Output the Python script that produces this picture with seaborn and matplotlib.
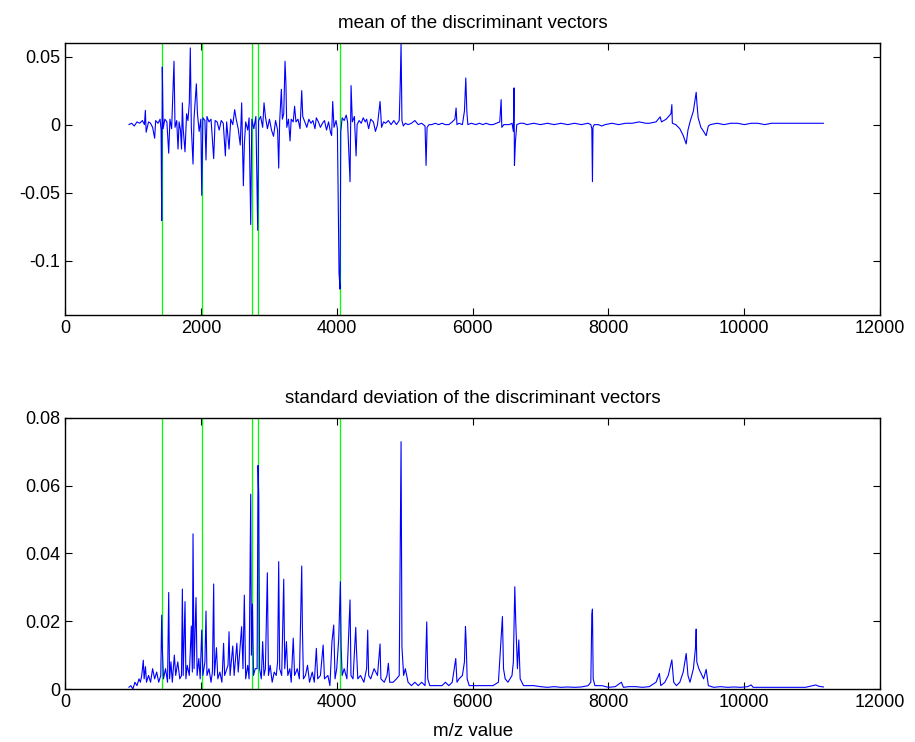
"""Mean / std of discriminant vectors over m/z, MATLAB-style two panel plot"""
import numpy as np
import pandas as pd
import matplotlib
matplotlib.use("Agg")
import matplotlib.pyplot as plt
import seaborn as sns

# trace vertices (m/z, value)
mean_mz = [
    940, 980, 1020, 1060, 1100, 1140, 1170, 1183, 1195, 1230, 1260, 1290, 1320, 1335,
    1370, 1400, 1415, 1424, 1433, 1445, 1470, 1500, 1527, 1545, 1570, 1605, 1620, 1645,
    1664, 1680, 1700, 1716, 1728, 1740, 1767, 1790, 1810, 1830, 1845, 1860, 1885, 1900,
    1934, 1950, 1975, 2000, 2013, 2030, 2060, 2076, 2090, 2120, 2150, 2189, 2210, 2240,
    2270, 2300, 2330, 2361, 2380, 2415, 2440, 2470, 2498, 2520, 2550, 2580, 2601, 2626,
    2640, 2660, 2690, 2710, 2734, 2750, 2780, 2810, 2837, 2850, 2880, 2910, 2930, 2950,
    2980, 3010, 3040, 3070, 3100, 3130, 3146, 3160, 3185, 3200, 3220, 3239, 3252, 3265,
    3290, 3313, 3330, 3360, 3380, 3400, 3430, 3460, 3485, 3500, 3530, 3560, 3590, 3620,
    3650, 3680, 3700, 3730, 3760, 3790, 3820, 3850, 3880, 3910, 3925, 3941, 3960, 3990,
    4010, 4034, 4049, 4060, 4080, 4110, 4140, 4160, 4196, 4211, 4230, 4260, 4285, 4300,
    4330, 4360, 4390, 4420, 4440, 4470, 4500, 4540, 4570, 4600, 4638, 4660, 4690, 4720,
    4760, 4800, 4840, 4880, 4920, 4935, 4947, 4960, 4980, 5010, 5050, 5100, 5150, 5200,
    5250, 5300, 5315, 5330, 5360, 5400, 5450, 5500, 5550, 5600, 5650, 5700, 5740, 5757,
    5770, 5800, 5850, 5880, 5900, 5915, 5930, 5980, 6050, 6100, 6150, 6200, 6250, 6300,
    6350, 6400, 6420, 6430, 6460, 6500, 6540, 6580, 6600, 6610, 6616, 6630, 6650, 6700,
    6750, 6800, 6900, 7000, 7100, 7200, 7300, 7400, 7500, 7600, 7700, 7740, 7755, 7764,
    7772, 7790, 7850, 7900, 7950, 8050, 8150, 8250, 8350, 8450, 8550, 8600, 8700, 8761,
    8780, 8850, 8920, 8933, 8940, 8990, 9050, 9100, 9144, 9170, 9200, 9250, 9280, 9291,
    9300, 9320, 9360, 9400, 9438, 9470, 9500, 9600, 9700, 9800, 9900, 10000, 10100,
    10200, 10300, 10400, 10500, 10600, 10700, 10800, 10900, 11000, 11100, 11166,
]
mean_val = [
    0.000, 0.001, -0.001, 0.002, 0.001, 0.003, 0.000, 0.0105, -0.0056, 0.002, 0.001, -0.002, -0.010, 0.003,
    0.001, 0.004, -0.004, -0.0706, 0.0424, -0.003, 0.004, 0.002, -0.021, 0.004, -0.003, 0.0466, -0.002, 0.003,
    -0.018, 0.002, -0.004, -0.018, 0.016, -0.003, -0.020, 0.008, 0.003, 0.016, 0.0564, -0.002, -0.029, 0.005,
    0.030, 0.008, -0.005, 0.004, -0.052, 0.005, 0.003, -0.026, 0.006, 0.002, 0.004, -0.025, 0.003, 0.002,
    -0.004, 0.003, 0.001, -0.023, 0.002, -0.018, 0.004, 0.000, 0.011, 0.004, -0.003, -0.015, 0.016, -0.045,
    -0.015, 0.002, -0.004, 0.005, -0.0735, 0.004, -0.003, 0.006, -0.0777, 0.003, 0.006, -0.002, 0.016, 0.006,
    -0.003, 0.004, -0.004, -0.0086, 0.003, -0.004, -0.032, 0.002, 0.026, 0.004, 0.008, 0.0466, 0.0306, -0.002,
    0.004, -0.012, 0.004, 0.002, 0.0135, 0.002, 0.004, -0.003, 0.025, 0.006, 0.002, -0.002, 0.004, 0.001,
    0.003, -0.003, 0.005, 0.002, -0.002, 0.001, 0.003, -0.004, 0.002, -0.006, -0.008, 0.017, -0.002, 0.003,
    -0.003, -0.109, -0.121, -0.005, 0.005, 0.003, 0.007, 0.002, -0.042, 0.0287, 0.002, 0.006, -0.023, 0.000,
    0.003, 0.001, 0.005, 0.002, 0.004, -0.003, 0.004, 0.002, -0.005, 0.000, 0.017, -0.002, 0.002, 0.001,
    0.003, 0.000, 0.003, 0.000, 0.003, 0.030, 0.0595, 0.003, -0.001, 0.001, 0.000, 0.001, 0.003, 0.000,
    0.001, -0.001, -0.030, -0.002, 0.000, 0.000, 0.001, 0.000, 0.001, 0.000, 0.000, 0.002, 0.004, 0.0122,
    0.000, 0.001, 0.000, 0.010, 0.0343, 0.010, 0.000, 0.001, 0.000, 0.001, 0.000, 0.001, 0.000, 0.000,
    0.001, 0.002, 0.0184, -0.002, 0.000, 0.000, 0.000, 0.001, -0.005, 0.027, -0.030, -0.013, 0.000, 0.001,
    0.001, 0.000, 0.001, 0.000, 0.001, 0.000, 0.001, 0.000, 0.001, 0.000, 0.001, 0.000, -0.003, -0.042,
    -0.002, 0.000, 0.000, -0.001, 0.000, 0.001, 0.000, 0.001, 0.001, 0.002, 0.001, 0.001, 0.002, 0.0057,
    0.002, 0.004, 0.008, 0.0147, 0.001, 0.000, -0.003, -0.008, -0.0142, -0.004, 0.002, 0.010, 0.020, 0.0238,
    0.017, 0.005, -0.002, -0.005, -0.0081, -0.001, 0.000, 0.001, 0.000, 0.001, 0.001, 0.000, 0.001,
    0.001, 0.000, 0.001, 0.001, 0.001, 0.001, 0.001, 0.001, 0.001, 0.001, 0.001,
]

std_mz = [
    940, 970, 1000, 1030, 1060, 1090, 1110, 1130, 1153, 1165, 1185, 1200, 1230, 1260,
    1290, 1320, 1350, 1380, 1410, 1424, 1435, 1450, 1480, 1510, 1527, 1540, 1560, 1580,
    1610, 1630, 1660, 1690, 1715, 1728, 1740, 1767, 1780, 1800, 1830, 1860, 1875, 1885,
    1900, 1929, 1945, 1970, 1990, 2013, 2030, 2060, 2076, 2090, 2120, 2150, 2170, 2189,
    2200, 2230, 2250, 2280, 2310, 2335, 2350, 2400, 2415, 2430, 2470, 2490, 2530, 2550,
    2600, 2620, 2640, 2660, 2690, 2710, 2734, 2744, 2760, 2775, 2800, 2828, 2842, 2852,
    2865, 2890, 2910, 2930, 2950, 2979, 2995, 3020, 3050, 3080, 3110, 3130, 3146, 3160,
    3190, 3220, 3235, 3260, 3280, 3310, 3330, 3360, 3380, 3420, 3450, 3485, 3495, 3510,
    3540, 3570, 3600, 3640, 3670, 3700, 3720, 3760, 3800, 3820, 3870, 3900, 3930, 3956,
    3975, 4000, 4030, 4054, 4065, 4080, 4110, 4150, 4196, 4210, 4240, 4280, 4290, 4310,
    4350, 4400, 4440, 4456, 4470, 4500, 4550, 4600, 4638, 4650, 4700, 4740, 4760, 4780,
    4830, 4880, 4920, 4947, 4960, 4985, 5010, 5050, 5100, 5150, 5200, 5250, 5300, 5325,
    5340, 5370, 5420, 5480, 5550, 5600, 5650, 5700, 5752, 5770, 5800, 5850, 5880, 5895,
    5905, 5920, 5950, 6000, 6100, 6200, 6300, 6380, 6410, 6439, 6455, 6480, 6520, 6580,
    6600, 6621, 6635, 6660, 6680, 6700, 6750, 6800, 6900, 7000, 7100, 7200, 7300, 7400,
    7500, 7600, 7700, 7740, 7755, 7764, 7775, 7800, 7900, 8000, 8100, 8190, 8220, 8300,
    8400, 8500, 8600, 8700, 8750, 8770, 8830, 8880, 8933, 8960, 9000, 9050, 9100, 9144,
    9170, 9200, 9250, 9280, 9291, 9300, 9330, 9400, 9438, 9470, 9550, 9650, 9750, 9850,
    9950, 10050, 10100, 10130, 10300, 10500, 10700, 10900, 11050, 11100, 11166,
]
std_val = [
    0.0005, 0.001, 0.000, 0.002, 0.001, 0.003, 0.002, 0.004, 0.0085, 0.003, 0.0066, 0.002, 0.004, 0.002,
    0.006, 0.003, 0.005, 0.002, 0.004, 0.0218, 0.011, 0.003, 0.006, 0.002, 0.0285, 0.003, 0.008, 0.002,
    0.010, 0.004, 0.008, 0.003, 0.004, 0.0295, 0.004, 0.0258, 0.003, 0.007, 0.004, 0.0186, 0.005, 0.0458,
    0.006, 0.027, 0.004, 0.009, 0.003, 0.0174, 0.004, 0.008, 0.023, 0.004, 0.006, 0.002, 0.005, 0.031,
    0.004, 0.0122, 0.003, 0.005, 0.002, 0.0135, 0.004, 0.007, 0.0169, 0.004, 0.0127, 0.004, 0.0135, 0.005,
    0.0184, 0.006, 0.0277, 0.003, 0.007, 0.003, 0.0575, 0.010, 0.0251, 0.004, 0.006, 0.006, 0.066, 0.057,
    0.006, 0.003, 0.014, 0.004, 0.006, 0.0343, 0.004, 0.007, 0.002, 0.005, 0.004, 0.008, 0.0376, 0.006,
    0.004, 0.0324, 0.006, 0.014, 0.004, 0.006, 0.002, 0.015, 0.004, 0.006, 0.003, 0.0363, 0.018, 0.003,
    0.004, 0.007, 0.002, 0.005, 0.002, 0.012, 0.003, 0.004, 0.013, 0.003, 0.004, 0.001, 0.014, 0.0189,
    0.003, 0.006, 0.015, 0.0317, 0.0124, 0.004, 0.006, 0.003, 0.0263, 0.004, 0.003, 0.0182, 0.012, 0.003,
    0.004, 0.002, 0.006, 0.0174, 0.004, 0.003, 0.006, 0.004, 0.0133, 0.003, 0.002, 0.004, 0.0076, 0.002,
    0.002, 0.003, 0.004, 0.073, 0.0124, 0.004, 0.006, 0.002, 0.001, 0.002, 0.001, 0.002, 0.001, 0.0198,
    0.003, 0.001, 0.001, 0.001, 0.001, 0.002, 0.001, 0.002, 0.0090, 0.002, 0.003, 0.004, 0.008, 0.0184,
    0.014, 0.003, 0.001, 0.001, 0.001, 0.001, 0.001, 0.002, 0.012, 0.0214, 0.006, 0.003, 0.002, 0.004,
    0.008, 0.0302, 0.020, 0.006, 0.0145, 0.003, 0.001, 0.001, 0.001, 0.0007, 0.0005, 0.0007, 0.0005, 0.0006,
    0.0005, 0.0006, 0.001, 0.002, 0.022, 0.0236, 0.003, 0.001, 0.001, 0.0005, 0.0007, 0.002, 0.0005, 0.0007,
    0.0007, 0.0005, 0.0007, 0.002, 0.0046, 0.001, 0.002, 0.004, 0.0086, 0.002, 0.001, 0.002, 0.005, 0.0105,
    0.004, 0.002, 0.006, 0.012, 0.0177, 0.008, 0.006, 0.003, 0.0058, 0.001, 0.0005, 0.0007, 0.0005, 0.0006,
    0.0005, 0.0007, 0.0012, 0.0005, 0.0005, 0.0005, 0.0005, 0.0005, 0.0012, 0.0008, 0.0006,
]

# selected m/z markers (green lines)
marker_mz = [1424, 2013, 2749, 2842, 4054]

x_ticks = [0, 2000, 4000, 6000, 8000, 10000, 12000]
mean_ticks = [-0.1, -0.05, 0, 0.05]
mean_labels = ["-0.1", "-0.05", "0", "0.05"]
std_ticks = [0, 0.02, 0.04, 0.06, 0.08]
std_labels = ["0", "0.02", "0.04", "0.06", "0.08"]

sns.set_style("ticks")
plt.rcParams['font.family'] = ['Liberation Sans', 'DejaVu Sans']
plt.rcParams['axes.unicode_minus'] = False
plt.rcParams['text.color'] = 'black'
plt.rcParams['axes.labelcolor'] = 'black'

fig = plt.figure(figsize=(9.15, 7.42), dpi=100)
ax1 = fig.add_axes([0.071, 0.5755, 0.891, 0.3665])
ax2 = fig.add_axes([0.071, 0.0714, 0.891, 0.3653])

mean_df = pd.DataFrame({"mz": mean_mz, "val": mean_val})
std_df = pd.DataFrame({"mz": std_mz, "val": std_val})

panels = [
    (ax1, mean_df, (-0.14, 0.06), mean_ticks, mean_labels, "mean of the discriminant vectors"),
    (ax2, std_df, (0, 0.08), std_ticks, std_labels, "standard deviation of the discriminant vectors"),
]

for ax, df, ylim, yt, yl, title in panels:
    for m in marker_mz:
        ax.axvline(m, color="#00ff00", lw=0.9, zorder=1)
    sns.lineplot(data=df, x="mz", y="val", ax=ax, sort=False, estimator=None,
                 color="#0000ff", lw=0.8, zorder=2)
    ax.set_xlim(0, 12000)
    ax.set_ylim(*ylim)
    ax.set_xticks(x_ticks)
    ax.set_xticklabels([str(t) for t in x_ticks])
    ax.set_yticks(yt)
    ax.set_yticklabels(yl)
    ax.set_title(title, fontsize=13.5, pad=11, color="black")
    ax.set_xlabel("")
    ax.set_ylabel("")
    ax.tick_params(direction="in", top=True, right=True, length=5, width=0.8,
                   labelsize=13, colors="black")
    for sp in ax.spines.values():
        sp.set_visible(True)
        sp.set_color("black")
        sp.set_linewidth(1.0)

ax2.set_xlabel("m/z value", fontsize=13.5, labelpad=9, color="black")

fig.savefig("out.png", dpi=100)
